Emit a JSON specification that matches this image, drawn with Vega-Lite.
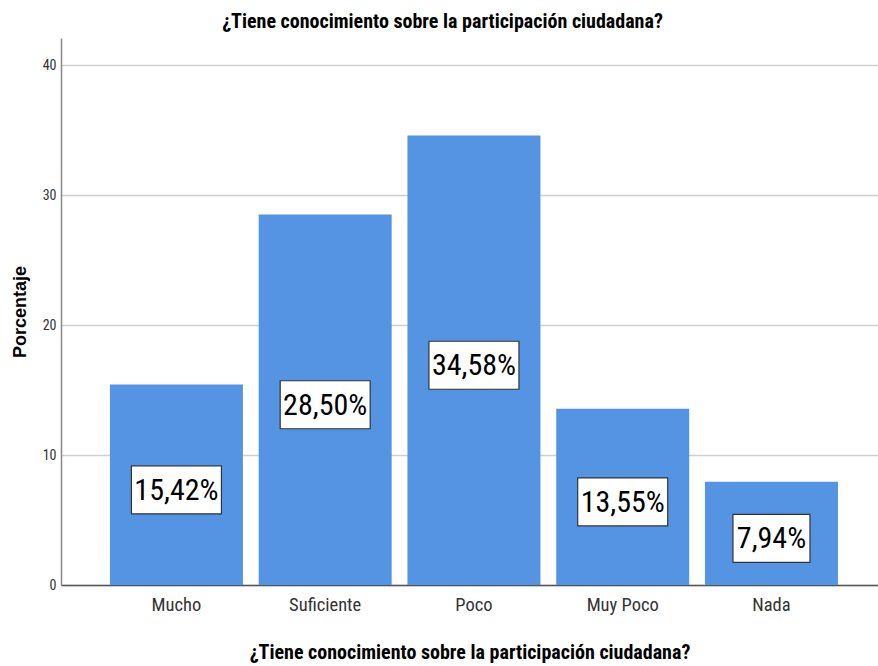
{
  "$schema": "https://vega.github.io/schema/vega-lite/v6.json",
  "width": 817,
  "height": 547,
  "autosize": {"type": "none"},
  "padding": {"left": 61, "top": 38, "right": 0, "bottom": 81},
  "background": "white",
  "title": {
    "text": "¿Tiene conocimiento sobre la participación ciudadana?",
    "font": "Roboto Condensed, Liberation Sans, sans-serif",
    "fontSize": 20,
    "fontWeight": "bold",
    "color": "#000000",
    "anchor": "middle",
    "dx": -27,
    "offset": 6
  },
  "data": {
    "values": [
      {"categoria": "Mucho", "porcentaje": 15.42, "etiqueta": "15,42%"},
      {"categoria": "Suficiente", "porcentaje": 28.50, "etiqueta": "28,50%"},
      {"categoria": "Poco", "porcentaje": 34.58, "etiqueta": "34,58%"},
      {"categoria": "Muy Poco", "porcentaje": 13.55, "etiqueta": "13,55%"},
      {"categoria": "Nada", "porcentaje": 7.94, "etiqueta": "7,94%"}
    ]
  },
  "encoding": {
    "x": {
      "field": "categoria",
      "type": "nominal",
      "sort": null,
      "scale": {"paddingInner": 0.106, "paddingOuter": 0.299, "align": 0.55},
      "axis": {
        "title": "¿Tiene conocimiento sobre la participación ciudadana?",
        "titleFont": "Roboto Condensed, Liberation Sans, sans-serif",
        "titleFontSize": 20,
        "titleFontWeight": "bold",
        "titleColor": "#000000",
        "titlePadding": 29,
        "labelAngle": 0,
        "labelFont": "Roboto Condensed, Liberation Sans, sans-serif",
        "labelFontSize": 18.5,
        "labelColor": "#333333",
        "labelPadding": 10,
        "ticks": false,
        "domainColor": "#555555",
        "domainWidth": 1.5,
        "grid": false
      }
    }
  },
  "layer": [
    {
      "mark": {"type": "bar", "color": "#5594e3"},
      "encoding": {
        "y": {
          "field": "porcentaje",
          "type": "quantitative",
          "scale": {"domain": [0, 42.08], "nice": false},
          "axis": {
            "values": [0, 10, 20, 30, 40],
            "title": "Porcentaje",
            "titleFont": "Liberation Sans",
            "titleFontSize": 18,
            "titleFontWeight": "bold",
            "titleColor": "#000000",
            "titlePadding": 13,
            "labelFont": "Roboto Condensed, Liberation Sans, sans-serif",
            "labelFontSize": 14,
            "labelColor": "#333333",
            "labelPadding": 5,
            "ticks": false,
            "domainColor": "#888888",
            "domainWidth": 1.5,
            "grid": true,
            "gridColor": "#d0d0d0",
            "gridWidth": 1.5
          }
        }
      }
    },
    {
      "transform": [{"calculate": "datum.porcentaje / 2", "as": "medio"}],
      "mark": {"type": "point", "filled": true, "fill": "white", "stroke": "#333333", "strokeWidth": 1.2, "opacity": 1, "size": 10000, "yOffset": 5},
      "encoding": {
        "y": {"field": "medio", "type": "quantitative", "scale": {"domain": [0, 42.08], "nice": false}},
        "shape": {
          "condition": {"test": "datum.porcentaje < 10", "value": "M-0.77,-0.48L0.77,-0.48L0.77,0.48L-0.77,0.48Z"},
          "value": "M-0.9,-0.48L0.9,-0.48L0.9,0.48L-0.9,0.48Z"
        }
      }
    },
    {
      "transform": [{"calculate": "datum.porcentaje / 2", "as": "medio"}],
      "mark": {"type": "text", "font": "Roboto Condensed, Liberation Sans, sans-serif", "fontSize": 30, "color": "#000000", "baseline": "middle", "align": "center", "dy": 6},
      "encoding": {
        "y": {"field": "medio", "type": "quantitative", "scale": {"domain": [0, 42.08], "nice": false}},
        "text": {"field": "etiqueta"}
      }
    }
  ],
  "config": {
    "view": {"stroke": null}
  }
}
